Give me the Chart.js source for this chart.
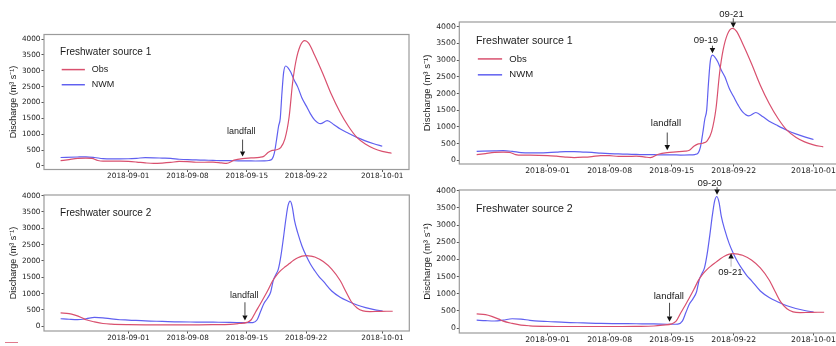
<!DOCTYPE html>
<html>
<head>
<meta charset="utf-8">
<title>Discharge</title>
<script src="https://cdn.jsdelivr.net/npm/chart.js@4.4.1/dist/chart.umd.min.js"></script>
<style>
  html, body { margin: 0; background: #fff; }
  #wrap { position: relative; width: 836px; height: 346px; overflow: hidden; }
  #wrap canvas { position: absolute; }
  .edge-mark { position: absolute; left: 5px; top: 342px; width: 13px; height: 0; border-top: 1.5px solid #e07a8c; }
</style>
</head>
<body>
<div id="wrap">
  <canvas id="p1" width="418" height="186" style="left:0;top:0"></canvas>
  <canvas id="p2" width="418" height="160" style="left:0;top:186px"></canvas>
  <canvas id="p3" width="430" height="186" style="left:418px;top:0"></canvas>
  <canvas id="p4" width="430" height="176" style="left:418px;top:170px"></canvas>
  <div class="edge-mark"></div>
</div>
<script>
// days are counted from 2018-09-01
const tickDays = [0, 7, 14, 21, 30];
const tickLabels = ['2018-09-01', '2018-09-08', '2018-09-15', '2018-09-22', '2018-10-01'];
const flowTicks = [0, 500, 1000, 1500, 2000, 2500, 3000, 3500, 4000];

// freshwater source 1
const obs1Days = [-8, -7, -6, -5, -4.3, -3.6, -3, -2, -1, 0, 1, 2, 3, 4, 5, 6, 7, 8, 9, 10, 11, 11.6, 12.5, 13.5, 14.5, 15.5, 16, 16.5, 17, 17.5, 18, 18.5, 19, 19.4, 19.8, 20.3, 20.85, 21.3, 22, 23, 24, 25, 26, 27, 28, 29, 30, 31.1];
const obs1Flow = [165, 200, 235, 245, 235, 170, 150, 150, 148, 140, 120, 95, 80, 90, 110, 140, 135, 115, 115, 120, 95, 80, 180, 230, 250, 270, 300, 420, 490, 510, 580, 850, 1550, 2600, 3300, 3780, 3950, 3870, 3500, 2900, 2250, 1700, 1250, 900, 690, 550, 460, 400];
const nwm1Days = [-8, -6, -5, -4, -3, -2, -1, 0, 1, 2, 3, 4, 5, 6, 7, 8, 9, 10, 11, 12, 13, 14, 15, 16, 16.6, 17, 17.25, 17.5, 17.75, 17.95, 18.15, 18.35, 18.6, 18.85, 19.2, 19.6, 20, 20.5, 21, 21.5, 22, 22.7, 23.5, 24.3, 25, 26, 27, 28, 29, 30];
const nwm1Flow = [265, 280, 285, 265, 230, 220, 220, 225, 240, 260, 255, 245, 235, 210, 195, 190, 180, 175, 165, 165, 160, 160, 155, 160, 170, 220, 400, 800, 1250, 1500, 2300, 2950, 3150, 3100, 2950, 2700, 2500, 2150, 1900, 1650, 1450, 1330, 1430, 1300, 1170, 1030, 900, 790, 700, 620];

// freshwater source 2
const obs2Days = [-8, -7, -6.3, -5.5, -5, -4, -3, -2, 0, 2, 4, 6, 8, 10, 12, 13, 14, 14.5, 15, 15.5, 16, 16.5, 17, 17.5, 18, 18.5, 19, 19.5, 20, 20.5, 21, 21.5, 22, 23, 24, 25, 25.7, 26.3, 27, 27.7, 28.5, 29.5, 30.5, 31.2];
const obs2Flow = [410, 390, 340, 260, 200, 135, 85, 65, 50, 45, 45, 45, 45, 50, 60, 85, 120, 200, 430, 650, 880, 1120, 1380, 1570, 1710, 1820, 1920, 2020, 2100, 2150, 2165, 2150, 2120, 1980, 1750, 1400, 1050, 760, 560, 470, 450, 455, 460, 460];
const nwm2Days = [-8, -7, -6, -5, -4, -3, -2, -1, 0, 2, 4, 6, 8, 10, 12, 14, 14.7, 15.2, 15.6, 16, 16.4, 16.8, 17.1, 17.4, 17.7, 18, 18.3, 18.6, 18.85, 19.1, 19.35, 19.6, 20, 20.5, 21, 21.5, 22, 22.5, 23, 24, 25, 26, 27, 28, 29, 30];
const nwm2Flow = [230, 215, 205, 230, 270, 260, 225, 200, 190, 165, 150, 135, 130, 125, 120, 110, 115, 200, 450, 700, 850, 1050, 1400, 1580, 1750, 2150, 2700, 3300, 3700, 3830, 3650, 3250, 2850, 2450, 2150, 1900, 1700, 1520, 1380, 1080, 890, 760, 650, 570, 510, 470];

// arrows: text anchor + vertical arrow (day, flow)
const landfall1 = { text: 'landfall', textX: 13.35, textY: 1090, x: 13.5, tail: 830, head: 300 };
const landfall2 = { text: 'landfall', textX: 13.68, textY: 930, x: 13.76, tail: 735, head: 180 };
const peaks1 = [
  { text: '09-19', textX: 17.86, textY: 3583, x: 18.6, tail: 3432, head: 3204 },
  { text: '09-21', textX: 20.75, textY: 4384, x: 20.95, tail: 4255, head: 3973 }
];
const peaks2 = [
  { text: '09-20', textX: 18.28, textY: 4219, x: 19.12, tail: 4102, head: 3878 },
  { text: '09-21', textX: 20.62, textY: 1612, x: 20.7, tail: 1787, head: 2178, faint: true }
];

const obsColor = '#d9506e';
const nwmColor = '#6060f0';
const sans = '"Liberation Sans", Arial, sans-serif';
const dejavu = '"DejaVu Sans", sans-serif';

// matplotlib-like 5% margins
function padded(lists) {
  const all = lists.flat();
  const lo = Math.min(...all), hi = Math.max(...all);
  const m = (hi - lo) * 0.05;
  return { min: lo - m, max: hi + m };
}
const dayRange = padded([obs1Days, nwm1Days, obs2Days, nwm2Days]);
const flow1Range = padded([obs1Flow, nwm1Flow]);
const flow2Range = padded([obs2Flow, nwm2Flow]);

const pairs = (xs, ys) => xs.map((x, i) => ({ x: x, y: ys[i] }));

// frame, panel title, legend and arrows
const decor = {
  id: 'decor',
  afterDraw(chart, args, o) {
    const { ctx, chartArea: a, scales } = chart;
    const w = a.right - a.left, h = a.bottom - a.top;
    const k = o.k;
    ctx.save();
    ctx.strokeStyle = '#9b9b9b';
    ctx.lineWidth = 1.2;
    ctx.strokeRect(a.left, a.top, w, h);

    ctx.fillStyle = '#1a1a1a';
    ctx.textBaseline = 'middle';
    ctx.textAlign = 'left';
    ctx.font = (10 * k) + 'px ' + sans;
    ctx.fillText(o.title, a.left + 0.044 * w, a.top + 0.132 * h);

    if (o.legend) {
      ctx.font = (9 * k) + 'px ' + sans;
      chart.data.datasets.forEach((ds, i) => {
        const y = a.top + (0.26 + 0.112 * i) * h;
        ctx.strokeStyle = ds.borderColor;
        ctx.lineWidth = 1.5;
        ctx.beginPath();
        ctx.moveTo(a.left + 0.0485 * w, y);
        ctx.lineTo(a.left + 0.112 * w, y);
        ctx.stroke();
        ctx.fillText(ds.label, a.left + 0.131 * w, y);
      });
    }

    o.notes.forEach(n => {
      const ax = scales.x.getPixelForValue(n.x);
      const tail = scales.y.getPixelForValue(n.tail);
      const head = scales.y.getPixelForValue(n.head);
      const dir = Math.sign(head - tail);
      const len = 5 * k, half = 2.6 * k;
      ctx.strokeStyle = n.faint ? '#b5b5b5' : '#4a4a4a';
      ctx.lineWidth = 1;
      ctx.beginPath();
      ctx.moveTo(ax, tail);
      ctx.lineTo(ax, head - dir * len);
      ctx.stroke();
      ctx.fillStyle = '#111';
      ctx.beginPath();
      ctx.moveTo(ax, head);
      ctx.lineTo(ax - half, head - dir * len);
      ctx.lineTo(ax + half, head - dir * len);
      ctx.closePath();
      ctx.fill();
      ctx.fillStyle = '#1a1a1a';
      ctx.font = (9 * k) + 'px ' + sans;
      ctx.textAlign = 'center';
      ctx.fillText(n.text, scales.x.getPixelForValue(n.textX), scales.y.getPixelForValue(n.textY));
    });
    ctx.restore();
  }
};

function makePanel(id, p) {
  const line = (label, xs, ys, color) => ({
    label: label,
    data: pairs(xs, ys),
    borderColor: color,
    borderWidth: 1.2,
    pointRadius: 0,
    fill: false,
    cubicInterpolationMode: 'monotone'
  });
  const tickFont = { family: dejavu, size: 7.3 * p.k };

  new Chart(document.getElementById(id), {
    type: 'line',
    data: {
      datasets: [
        line('Obs', p.obs[0], p.obs[1], obsColor),
        line('NWM', p.nwm[0], p.nwm[1], nwmColor)
      ]
    },
    options: {
      responsive: false,
      animation: false,
      devicePixelRatio: 1,
      events: [],
      layout: { autoPadding: false, padding: { top: p.top, right: p.right, bottom: 0, left: 0 } },
      plugins: {
        legend: { display: false },
        tooltip: { enabled: false },
        decor: { k: p.k, title: p.title, legend: p.legend, notes: p.notes }
      },
      scales: {
        x: {
          type: 'linear',
          min: dayRange.min,
          max: dayRange.max,
          afterBuildTicks: s => { s.ticks = tickDays.map(v => ({ value: v })); },
          afterFit: s => { s.height = p.xh; },
          ticks: {
            autoSkip: false, maxRotation: 0, padding: 0, color: '#222', font: tickFont,
            callback: v => tickLabels[tickDays.indexOf(v)]
          },
          grid: { drawOnChartArea: false, tickLength: 2.5, color: '#555' },
          border: { display: false }
        },
        y: {
          type: 'linear',
          min: p.range.min,
          max: p.range.max,
          afterBuildTicks: s => { s.ticks = flowTicks.map(v => ({ value: v })); },
          afterFit: s => { s.width = p.yw; },
          ticks: { autoSkip: false, padding: 1, color: '#222', font: tickFont, callback: v => String(v) },
          grid: { drawOnChartArea: false, tickLength: 2.5, color: '#555' },
          border: { display: false },
          title: {
            display: true,
            text: 'Discharge (m³ s⁻¹)',
            color: '#1a1a1a',
            font: { family: sans, size: 9 * p.k },
            padding: { top: p.titlePad, bottom: 0 }
          }
        }
      }
    },
    plugins: [decor]
  });
}

makePanel('p1', { obs: [obs1Days, obs1Flow], nwm: [nwm1Days, nwm1Flow], range: flow1Range, title: 'Freshwater source 1', legend: true, notes: [landfall1], k: 1, top: 34.5, right: 9, yw: 44, xh: 16.5, titlePad: 8.6 });
makePanel('p2', { obs: [obs2Days, obs2Flow], nwm: [nwm2Days, nwm2Flow], range: flow2Range, title: 'Freshwater source 2', legend: false, notes: [landfall2], k: 1, top: 9, right: 8.7, yw: 44, xh: 15, titlePad: 8.6 });
makePanel('p3', { obs: [obs1Days, obs1Flow], nwm: [nwm1Days, nwm1Flow], range: flow1Range, title: 'Freshwater source 1', legend: true, notes: [landfall1].concat(peaks1), k: 1.06, top: 22, right: 6.5, yw: 41.3, xh: 22, titlePad: 4 });
makePanel('p4', { obs: [obs2Days, obs2Flow], nwm: [nwm2Days, nwm2Flow], range: flow2Range, title: 'Freshwater source 2', legend: false, notes: [landfall2].concat(peaks2), k: 1.06, top: 20, right: 6.5, yw: 41.3, xh: 13, titlePad: 4 });
</script>
</body>
</html>
